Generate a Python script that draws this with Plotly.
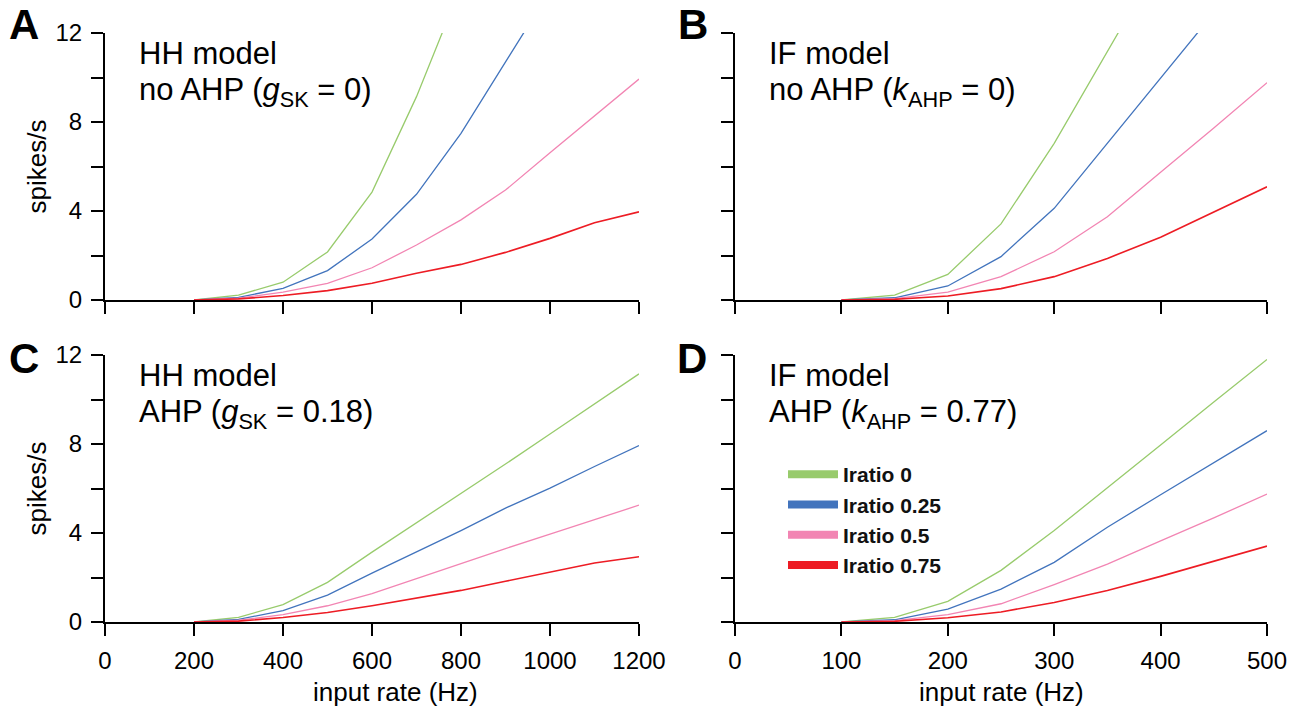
import plotly.graph_objects as go

# ---------------- data ----------------
hh_rate = [200, 300, 400, 500, 600, 700, 800, 900, 1000, 1100, 1200]
if_rate = [100, 150, 200, 250, 300, 350, 400, 450, 500]

iratio_labels = ["Iratio 0", "Iratio 0.25", "Iratio 0.5", "Iratio 0.75"]
iratio_colors = ["#98CB6C", "#4274BD", "#F285B3", "#ED1C24"]

# A: HH model, no AHP
A_i0 = [0, 0.22, 0.80, 2.16, 4.85, 9.14, 14.1]
A_i25 = [0, 0.12, 0.52, 1.32, 2.74, 4.75, 7.49, 10.67, 13.9]
A_i50 = [0, 0.08, 0.35, 0.75, 1.45, 2.47, 3.60, 4.94, 6.62, 8.28, 9.93]
A_i75 = [0, 0.05, 0.20, 0.42, 0.75, 1.20, 1.60, 2.14, 2.77, 3.47, 3.96]

# B: IF model, no AHP
B_i0 = [0, 0.22, 1.15, 3.42, 7.04, 11.17, 15.3]
B_i25 = [0, 0.10, 0.63, 1.95, 4.12, 7.05, 9.97, 12.9]
B_i50 = [0, 0.06, 0.35, 1.05, 2.17, 3.74, 5.74, 7.73, 9.77]
B_i75 = [0, 0.03, 0.18, 0.51, 1.05, 1.87, 2.82, 3.94, 5.09]

# C: HH model, AHP
C_i0 = [0, 0.21, 0.78, 1.78, 3.14, 4.45, 5.80, 7.10, 8.45, 9.80, 11.15]
C_i25 = [0, 0.12, 0.51, 1.21, 2.20, 3.17, 4.11, 5.12, 6.02, 6.99, 7.93]
C_i50 = [0, 0.08, 0.33, 0.73, 1.27, 1.95, 2.62, 3.30, 3.95, 4.60, 5.25]
C_i75 = [0, 0.04, 0.20, 0.43, 0.73, 1.08, 1.42, 1.83, 2.24, 2.65, 2.93]

# D: IF model, AHP
D_i0 = [0, 0.21, 0.93, 2.32, 4.11, 6.02, 7.96, 9.89, 11.80]
D_i25 = [0, 0.10, 0.58, 1.48, 2.68, 4.26, 5.72, 7.17, 8.60]
D_i50 = [0, 0.06, 0.33, 0.82, 1.68, 2.60, 3.65, 4.68, 5.75]
D_i75 = [0, 0.03, 0.19, 0.45, 0.88, 1.42, 2.05, 2.74, 3.41]

y_major = [0, 4, 8, 12]
y_minor = [2, 6, 10]
hh_ticks = [0, 200, 400, 600, 800, 1000, 1200]
if_ticks = [0, 100, 200, 300, 400, 500]

panel_letters = ["A", "B", "C", "D"]
panel_title_line1 = ["HH model", "IF model", "HH model", "IF model"]
panel_title_line2 = [
    "no AHP (<i>g</i><sub>SK</sub> = 0)",
    "no AHP (<i>k</i><sub>AHP</sub> = 0)",
    "AHP (<i>g</i><sub>SK</sub> = 0.18)",
    "AHP (<i>k</i><sub>AHP</sub> = 0.77)",
]
ylabel = "spikes/s"
xlabel = "input rate (Hz)"

# ---------------- layout geometry ----------------
W, H = 1306, 713
FONT = "Liberation Sans, Arial, sans-serif"


def px_x(p):
    return p / W


def px_y(p):
    return 1 - p / H


left_dom = [px_x(105), px_x(639)]
right_dom = [px_x(735), px_x(1267)]
top_dom = [px_y(300), px_y(33)]
bot_dom = [px_y(622), px_y(355)]

fig = go.Figure()

panels = [
    ("x", "y", hh_rate, [A_i0, A_i25, A_i50, A_i75]),
    ("x2", "y2", if_rate, [B_i0, B_i25, B_i50, B_i75]),
    ("x3", "y3", hh_rate, [C_i0, C_i25, C_i50, C_i75]),
    ("x4", "y4", if_rate, [D_i0, D_i25, D_i50, D_i75]),
]

for xa, ya, xs, series in panels:
    for k, vals in enumerate(series):
        fig.add_trace(go.Scatter(
            x=xs[:len(vals)], y=vals, mode="lines", xaxis=xa, yaxis=ya,
            line=dict(color=iratio_colors[k], width=1.6 if k == 3 else 1.3),
            showlegend=False, hoverinfo="skip"))

# legend entries (in panel D)
for k, lab in enumerate(iratio_labels):
    fig.add_trace(go.Scatter(
        x=[None], y=[None], mode="lines", xaxis="x4", yaxis="y4",
        line=dict(color=iratio_colors[k], width=8), name=lab,
        legendgroup=lab, showlegend=True))

axis_common = dict(
    showline=True, linecolor="black", linewidth=2,
    ticks="outside", ticklen=12, tickwidth=2, tickcolor="black",
    showgrid=False, zeroline=False, automargin=False,
    tickfont=dict(family=FONT, size=24, color="black"),
)
minor_y = dict(tickvals=y_minor, ticks="outside", ticklen=12, tickwidth=2,
               tickcolor="black", showgrid=False)

fig.update_layout(
    width=W, height=H,
    margin=dict(l=0, r=0, t=0, b=0),
    paper_bgcolor="white", plot_bgcolor="white",
    font=dict(family=FONT, color="black"),
    xaxis=dict(domain=left_dom, anchor="y", range=[0, 1200], tickvals=hh_ticks,
               showticklabels=False, **axis_common),
    yaxis=dict(domain=top_dom, anchor="x", range=[0, 12], tickvals=y_major,
               minor=minor_y, ticklabelstandoff=4, **axis_common),
    xaxis2=dict(domain=right_dom, anchor="y2", range=[0, 500], tickvals=if_ticks,
                showticklabels=False, **axis_common),
    yaxis2=dict(domain=top_dom, anchor="x2", range=[0, 12], tickvals=y_major,
                minor=minor_y, showticklabels=False, **axis_common),
    xaxis3=dict(domain=left_dom, anchor="y3", range=[0, 1200], tickvals=hh_ticks,
                ticklabelstandoff=4, **axis_common),
    yaxis3=dict(domain=bot_dom, anchor="x3", range=[0, 12], tickvals=y_major,
                minor=minor_y, ticklabelstandoff=4, **axis_common),
    xaxis4=dict(domain=right_dom, anchor="y4", range=[0, 500], tickvals=if_ticks,
                ticklabelstandoff=4, **axis_common),
    yaxis4=dict(domain=bot_dom, anchor="x4", range=[0, 12], tickvals=y_major,
                minor=minor_y, showticklabels=False, **axis_common),
    legend=dict(
        x=px_x(783), y=px_y(454), xanchor="left", yanchor="top",
        font=dict(family=FONT, size=21, color="#111111", weight="bold"),
        bgcolor="rgba(0,0,0,0)", borderwidth=0, tracegroupgap=0,
        itemwidth=50,
    ),
)

annotations = []
# panel titles (two lines each, placed by cap-height centre)
panel_left = [105, 735, 105, 735]
panel_top = [33, 33, 355, 355]
for i in range(4):
    tx = panel_left[i] + 32
    for txt, dy in [(panel_title_line1[i], 20.5), (panel_title_line2[i], 59)]:
        annotations.append(dict(
            text=txt, xref="paper", yref="paper", x=px_x(tx),
            y=px_y(panel_top[i] + dy), xanchor="left", yanchor="middle",
            align="left", showarrow=False,
            font=dict(family=FONT, size=31, color="black")))

# panel letters
letter_pos = [(7, -1), (676, -1), (7, 333), (675, 333)]
for L, (lx, ly) in zip(panel_letters, letter_pos):
    annotations.append(dict(
        text=f"<b>{L}</b>", xref="paper", yref="paper", x=px_x(lx), y=px_y(ly),
        xanchor="left", yanchor="top", showarrow=False,
        font=dict(family=FONT, size=42, color="black")))

# y axis titles
for cy in [166.5, 488.5]:
    annotations.append(dict(
        text=ylabel, xref="paper", yref="paper", x=px_x(36), y=px_y(cy),
        xanchor="center", yanchor="middle", textangle=-90, showarrow=False,
        font=dict(family=FONT, size=26, color="black")))

# x axis titles
for cx in [395, 1002]:
    annotations.append(dict(
        text=xlabel, xref="paper", yref="paper", x=px_x(cx), y=px_y(692),
        xanchor="center", yanchor="middle", showarrow=False,
        font=dict(family=FONT, size=26, color="black")))

fig.update_layout(annotations=annotations)

fig.write_html("out.html", config={"displayModeBar": False},
               post_script="document.body.style.margin='0';")
